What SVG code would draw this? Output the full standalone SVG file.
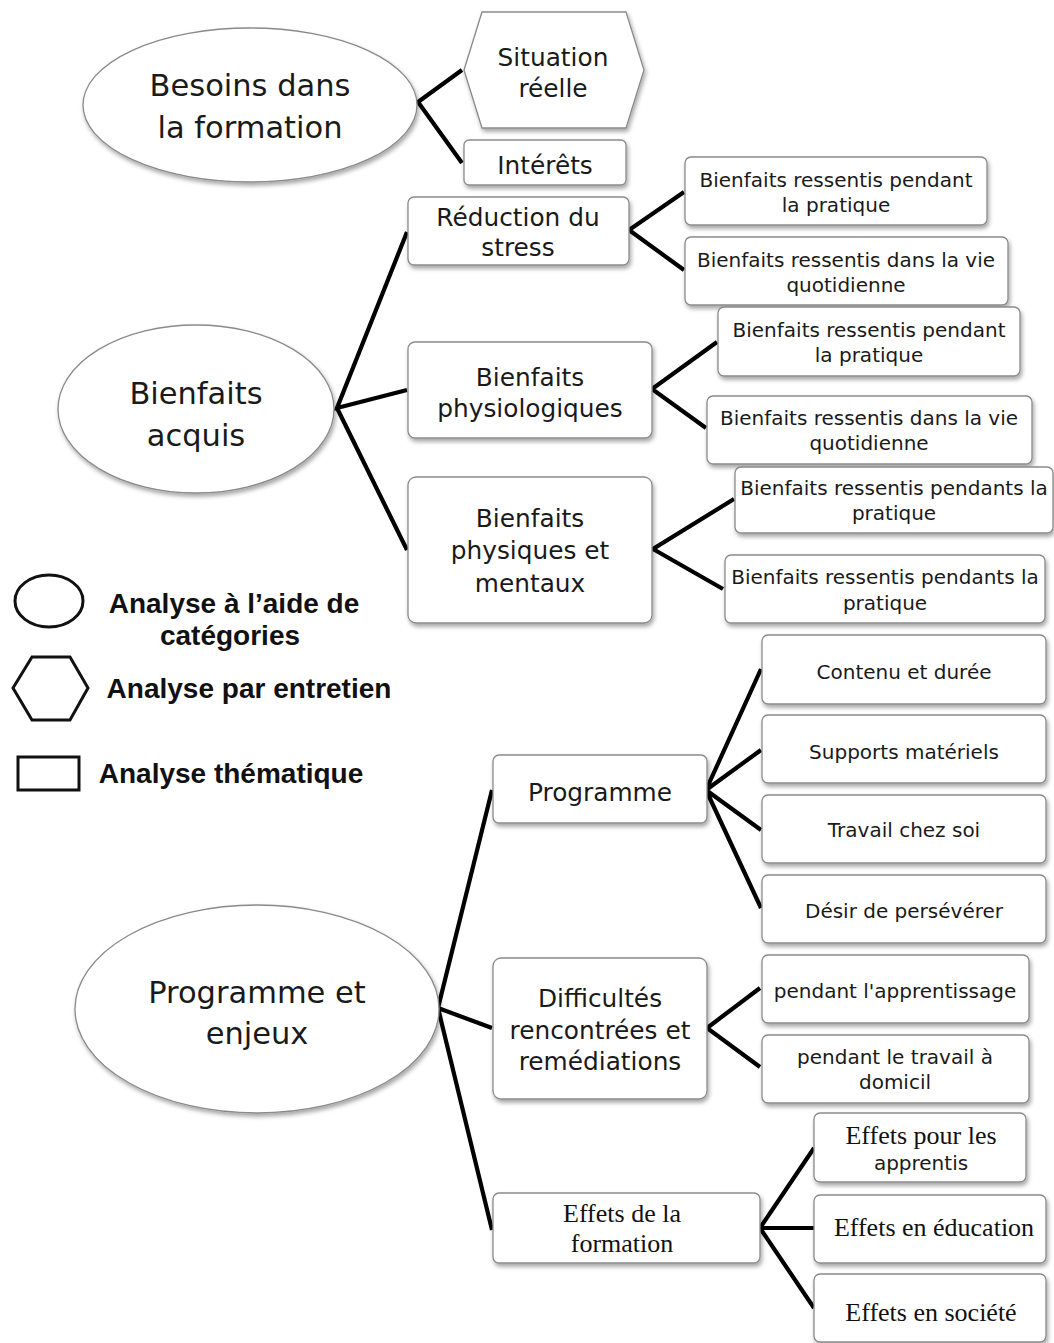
<svg xmlns="http://www.w3.org/2000/svg" width="1054" height="1343" viewBox="0 0 1054 1343">
<defs>
<filter id="sh" x="-10%" y="-10%" width="130%" height="140%">
<feDropShadow dx="1.5" dy="3" stdDeviation="2" flood-color="#000" flood-opacity="0.35"/>
</filter>
<style>
.box{fill:#fff;stroke:#8a8a8a;stroke-width:1.3;filter:url(#sh)}
.ell{fill:#fff;stroke:#8a8a8a;stroke-width:1.3;filter:url(#sh)}
.t{font-family:"DejaVu Sans",Lato,sans-serif;fill:#1a1a1a;text-anchor:middle;dominant-baseline:central}
.big{font-size:30.5px}
.mid{font-size:24.8px}
.sm{font-size:20px}
.tm{font-family:"Liberation Serif",serif;font-size:26px;fill:#111;text-anchor:middle;dominant-baseline:central}
.lg{font-family:"Liberation Sans",Arial,sans-serif;font-weight:bold;font-size:28px;fill:#111;text-anchor:middle;dominant-baseline:central}
.lgs{fill:#fff;stroke:#111;stroke-width:3}
.c{fill:none;stroke:#000;stroke-width:4.2}
</style>
</defs>
<rect width="1054" height="1343" fill="#fff"/>

<g id="connectors">
<path class="c" d="M462,70 L418,102 L462,163"/>
<path class="c" d="M407,232 L337,408 L407,390 M337,408 L407,550"/>
<path class="c" d="M684,192 L629,230 L684,270"/>
<path class="c" d="M717,342 L652,389 L706,428"/>
<path class="c" d="M734,499 L653,549 L723,589"/>
<path class="c" d="M492,790 L438,1008 L492,1028 M438,1008 L492,1230"/>
<path class="c" d="M761,669 L706,790 L761,750 M706,790 L761,830 M706,790 L761,908"/>
<path class="c" d="M760,988 L707,1028 L760,1067"/>
<path class="c" d="M814,1148 L760,1228 L814,1228 M760,1228 L814,1308"/>
</g>

<g id="besoins">
<ellipse class="ell" cx="250" cy="105" rx="167" ry="77"/>
<text class="t big" x="250" y="85">Besoins dans</text>
<text class="t big" x="250" y="127">la formation</text>
</g>
<g id="situation">
<polygon class="box" points="464,70 482,12 626,12 644,70 626,128 482,128"/>
<text class="t mid" x="553" y="57">Situation</text>
<text class="t mid" x="553" y="88">réelle</text>
</g>
<g id="interets">
<rect class="box" x="464" y="140" width="162" height="45" rx="5"/>
<text class="t mid" x="545" y="165">Intérêts</text>
</g>
<g id="bienfaits-acquis">
<ellipse class="ell" cx="196" cy="409" rx="138" ry="84"/>
<text class="t big" x="196" y="393">Bienfaits</text>
<text class="t big" x="196" y="435">acquis</text>
</g>
<g id="reduction">
<rect class="box" x="408" y="197" width="221" height="68" rx="6"/>
<text class="t mid" x="518" y="217">Réduction du</text>
<text class="t mid" x="518" y="247">stress</text>
</g>
<g id="red-pratique">
<rect class="box" x="685" y="157" width="302" height="68" rx="6"/>
<text class="t sm" x="836" y="180">Bienfaits ressentis pendant</text>
<text class="t sm" x="836" y="205">la pratique</text>
</g>
<g id="red-vie">
<rect class="box" x="685" y="237" width="323" height="68" rx="6"/>
<text class="t sm" x="846" y="260">Bienfaits ressentis dans la vie</text>
<text class="t sm" x="846" y="285">quotidienne</text>
</g>
<g id="physio">
<rect class="box" x="408" y="342" width="244" height="96" rx="7"/>
<text class="t mid" x="530" y="377">Bienfaits</text>
<text class="t mid" x="530" y="408">physiologiques</text>
</g>
<g id="physio-pratique">
<rect class="box" x="718" y="307" width="302" height="69" rx="6"/>
<text class="t sm" x="869" y="330">Bienfaits ressentis pendant</text>
<text class="t sm" x="869" y="355">la pratique</text>
</g>
<g id="physio-vie">
<rect class="box" x="707" y="396" width="325" height="68" rx="6"/>
<text class="t sm" x="869" y="418">Bienfaits ressentis dans la vie</text>
<text class="t sm" x="869" y="443">quotidienne</text>
</g>
<g id="physiques-mentaux">
<rect class="box" x="408" y="477" width="244" height="146" rx="8"/>
<text class="t mid" x="530" y="518">Bienfaits</text>
<text class="t mid" x="530" y="550">physiques et</text>
<text class="t mid" x="530" y="583">mentaux</text>
</g>
<g id="pm-pratique-1">
<rect class="box" x="735" y="467" width="318" height="66" rx="6"/>
<text class="t sm" x="894" y="488">Bienfaits ressentis pendants la</text>
<text class="t sm" x="894" y="513">pratique</text>
</g>
<g id="pm-pratique-2">
<rect class="box" x="725" y="555" width="320" height="68" rx="6"/>
<text class="t sm" x="885" y="577">Bienfaits ressentis pendants la</text>
<text class="t sm" x="885" y="603">pratique</text>
</g>

<g id="legend">
<ellipse class="lgs" cx="49" cy="601" rx="34" ry="26"/>
<text class="lg" x="234" y="603">Analyse à l’aide de</text>
<text class="lg" x="230" y="635">catégories</text>
<polygon class="lgs" points="13,688 32,657 70,657 88,688 70,720 32,720"/>
<text class="lg" x="249" y="688">Analyse par entretien</text>
<rect class="lgs" x="18" y="757" width="61" height="33"/>
<text class="lg" x="231" y="773">Analyse thématique</text>
</g>

<g id="programme-enjeux">
<ellipse class="ell" cx="257" cy="1009" rx="182" ry="104"/>
<text class="t big" x="257" y="992">Programme et</text>
<text class="t big" x="257" y="1033">enjeux</text>
</g>
<g id="programme">
<rect class="box" x="493" y="755" width="214" height="68" rx="6"/>
<text class="t mid" x="600" y="792">Programme</text>
</g>
<g id="contenu">
<rect class="box" x="762" y="635" width="284" height="69" rx="6"/>
<text class="t sm" x="904" y="672">Contenu et durée</text>
</g>
<g id="supports">
<rect class="box" x="762" y="715" width="284" height="68" rx="6"/>
<text class="t sm" x="904" y="752">Supports matériels</text>
</g>
<g id="travail">
<rect class="box" x="762" y="795" width="284" height="68" rx="6"/>
<text class="t sm" x="904" y="830">Travail chez soi</text>
</g>
<g id="desir">
<rect class="box" x="762" y="875" width="284" height="68" rx="6"/>
<text class="t sm" x="904" y="911">Désir de persévérer</text>
</g>
<g id="difficultes">
<rect class="box" x="493" y="958" width="214" height="141" rx="8"/>
<text class="t mid" x="600" y="998">Difficultés</text>
<text class="t mid" x="600" y="1030">rencontrées et</text>
<text class="t mid" x="600" y="1061">remédiations</text>
</g>
<g id="apprentissage">
<rect class="box" x="762" y="955" width="267" height="68" rx="6"/>
<text class="t sm" x="895" y="991">pendant l'apprentissage</text>
</g>
<g id="domicil">
<rect class="box" x="762" y="1035" width="267" height="68" rx="6"/>
<text class="t sm" x="895" y="1057">pendant le travail à</text>
<text class="t sm" x="895" y="1082">domicil</text>
</g>
<g id="effets-formation">
<rect class="box" x="493" y="1193" width="267" height="70" rx="6"/>
<text class="tm" x="622" y="1213">Effets de la</text>
<text class="tm" x="622" y="1243">formation</text>
</g>
<g id="effets-apprentis">
<rect class="box" x="814" y="1113" width="212" height="69" rx="6"/>
<text class="tm" x="921" y="1135">Effets pour les</text>
<text class="t sm" x="921" y="1163">apprentis</text>
</g>
<g id="effets-education">
<rect class="box" x="814" y="1195" width="232" height="68" rx="6"/>
<text class="tm" x="934" y="1227">Effets en éducation</text>
</g>
<g id="effets-societe">
<rect class="box" x="814" y="1274" width="232" height="68" rx="6"/>
<text class="tm" x="931" y="1312">Effets en société</text>
</g>
</svg>
